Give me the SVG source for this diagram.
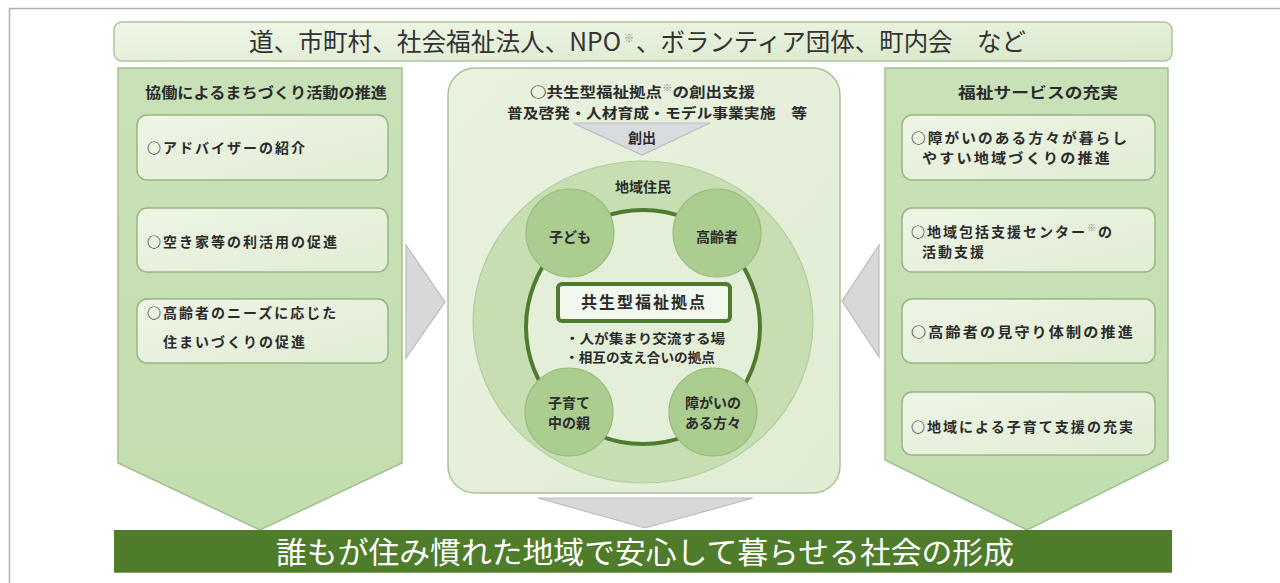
<svg xmlns="http://www.w3.org/2000/svg" width="1280" height="583" viewBox="0 0 1280 583">
<style>
text{font-family:"Noto Sans CJK JP","Noto Sans CJK SC",sans-serif;fill:#2b2b2b}
.t{font-size:14px;letter-spacing:2px;font-weight:bold}
.h{font-size:15px;font-weight:bold;text-anchor:middle}
.c{font-size:14px;text-anchor:middle;font-weight:bold}
.box{fill:url(#gBox);stroke:#97b683;stroke-width:1.5}
.col{fill:url(#gCol);stroke:#a3bf8f;stroke-width:1.5}
.sm{fill:#abcd90;stroke:#99bd7e;stroke-width:1.2}
.arr{fill:#d8d8d8;stroke:#bcbcbc;stroke-width:1.2}
.sup{fill:#888;font-weight:normal}
</style>
<defs>
<linearGradient id="gTop" x1="0" y1="0" x2="1" y2="1"><stop offset="0" stop-color="#f1f7ea"/><stop offset="1" stop-color="#d9e8c9"/></linearGradient>
<linearGradient id="gCol" x1="0" y1="0" x2="0" y2="1"><stop offset="0" stop-color="#c9e1b8"/><stop offset="1" stop-color="#c2ddae"/></linearGradient>
<linearGradient id="gBox" x1="0" y1="0" x2="1" y2="1"><stop offset="0" stop-color="#eef5e6"/><stop offset="1" stop-color="#e0ecd3"/></linearGradient>
<linearGradient id="gPanel" x1="0" y1="0" x2="1" y2="1"><stop offset="0" stop-color="#e9f2df"/><stop offset="1" stop-color="#e0ecd4"/></linearGradient>
</defs>
<path d="M9.5 583 V8.5 H1280" fill="none" stroke="#b0b0b0" stroke-width="1.5"/>
<g id="top-bar">
<rect x="114" y="22" width="1058" height="39" rx="8" fill="url(#gTop)" stroke="#adc39d" stroke-width="1.5"/>
<text x="249" y="51" font-size="25" style="fill:#333"><tspan textLength="372" lengthAdjust="spacingAndGlyphs">道、市町村、社会福祉法人、NPO</tspan><tspan x="624" y="42" font-size="10" class="sup">※</tspan><tspan x="636" y="51" textLength="390" lengthAdjust="spacingAndGlyphs">、ボランティア団体、町内会　など</tspan></text>
</g>
<g id="connectors">
<polygon class="arr" points="406,245 445,302 406,358"/>
<polygon class="arr" points="879,245 842,301 879,357"/>
<polygon class="arr" points="538,498 753,498 645,528"/>
</g>
<g id="left-column">
<polygon class="col" points="118,68 402,68 402,463 260,530 118,463"/>
<text class="h" x="266" y="98" textLength="242" lengthAdjust="spacingAndGlyphs">協働によるまちづくり活動の推進</text>
</g>
<g id="left-box-1">
<rect class="box" x="137" y="115" width="251" height="65" rx="10"/>
<text class="t" x="147" y="153">○アドバイザーの紹介</text>
</g>
<g id="left-box-2">
<rect class="box" x="137" y="208" width="251" height="64" rx="10"/>
<text class="t" x="147" y="247">○空き家等の利活用の促進</text>
</g>
<g id="left-box-3">
<rect class="box" x="137" y="299" width="251" height="64" rx="10"/>
<text class="t" x="147" y="318">○高齢者のニーズに応じた</text>
<text class="t" x="163" y="347">住まいづくりの促進</text>
</g>
<g id="center-panel">
<rect x="448" y="68" width="392" height="425" rx="27" fill="url(#gPanel)" stroke="#a9c19a" stroke-width="1.5"/>
<text x="530" y="97" font-size="14" font-weight="bold" textLength="225" lengthAdjust="spacingAndGlyphs">○共生型福祉拠点<tspan font-size="9" dy="-6" class="sup">※</tspan><tspan dy="6">の創出支援</tspan></text>
<text x="507" y="118" font-size="14" font-weight="bold" textLength="300" lengthAdjust="spacingAndGlyphs">普及啓発・人材育成・モデル事業実施　等</text>
</g>
<g id="create-arrow">
<polygon points="573,123 710,123 642,155" fill="#d9dcdf" stroke="#b9bdc0" stroke-width="1.2"/>
<text class="c" x="642" y="143" font-size="13">創出</text>
</g>
<g id="residents">
<ellipse cx="643" cy="322" rx="170" ry="161" fill="#c6deb2" stroke="#b2cd9e" stroke-width="1.2"/>
<text class="c" x="643" y="192">地域住民</text>
<circle cx="643" cy="327" r="117" fill="#e4efd9" stroke="#4f7b2e" stroke-width="4"/>
</g>
<g id="node-children">
<circle class="sm" cx="570" cy="233" r="44"/>
<text class="c" x="570" y="242">子ども</text>
</g>
<g id="node-elderly">
<circle class="sm" cx="717" cy="233" r="44"/>
<text class="c" x="717" y="242">高齢者</text>
</g>
<g id="node-parents">
<circle class="sm" cx="569" cy="412" r="44"/>
<text class="c" x="569" y="408">子育て</text>
<text class="c" x="569" y="428">中の親</text>
</g>
<g id="node-disabled">
<circle class="sm" cx="713" cy="412" r="44"/>
<text class="c" x="713" y="408">障がいの</text>
<text class="c" x="713" y="428">ある方々</text>
</g>
<g id="hub">
<rect x="558" y="284" width="172" height="37" rx="4" fill="#f3f8ee" stroke="#4f7b2e" stroke-width="4"/>
<text x="644" y="308" font-size="16" font-weight="bold" text-anchor="middle" letter-spacing="2">共生型福祉拠点</text>
<text x="565" y="343" font-size="13" font-weight="bold" textLength="160" lengthAdjust="spacingAndGlyphs">・人が集まり交流する場</text>
<text x="565" y="362" font-size="13" font-weight="bold" textLength="150" lengthAdjust="spacingAndGlyphs">・相互の支え合いの拠点</text>
</g>
<g id="right-column">
<polygon class="col" points="885,68 1168,68 1168,460 1027,530 885,460"/>
<text class="h" x="1038" y="98" textLength="160" lengthAdjust="spacingAndGlyphs">福祉サービスの充実</text>
</g>
<g id="right-box-1">
<rect class="box" x="902" y="115" width="253" height="65" rx="10"/>
<text class="t" x="911" y="143" textLength="218" lengthAdjust="spacingAndGlyphs">○障がいのある方々が暮らし</text>
<text class="t" x="922" y="163" textLength="190" lengthAdjust="spacingAndGlyphs">やすい地域づくりの推進</text>
</g>
<g id="right-box-2">
<rect class="box" x="902" y="208" width="253" height="64" rx="10"/>
<text class="t" x="911" y="237">○地域包括支援センター<tspan font-size="9" dy="-6" class="sup">※</tspan><tspan dy="6">の</tspan></text>
<text class="t" x="922" y="257">活動支援</text>
</g>
<g id="right-box-3">
<rect class="box" x="902" y="299" width="253" height="64" rx="10"/>
<text class="t" x="911" y="337" textLength="224" lengthAdjust="spacingAndGlyphs">○高齢者の見守り体制の推進</text>
</g>
<g id="right-box-4">
<rect class="box" x="902" y="392" width="253" height="63" rx="10"/>
<text class="t" x="911" y="432" textLength="224" lengthAdjust="spacingAndGlyphs">○地域による子育て支援の充実</text>
</g>
<g id="bottom-bar">
<rect x="114" y="530" width="1058" height="43" fill="#4f7c2b"/>
<line x1="114" y1="572.5" x2="1172" y2="572.5" stroke="#7fa460" stroke-width="1"/>
<text x="276" y="563" font-size="30" textLength="738" lengthAdjust="spacingAndGlyphs" style="fill:#ffffff">誰もが住み慣れた地域で安心して暮らせる社会の形成</text>
</g>
</svg>
